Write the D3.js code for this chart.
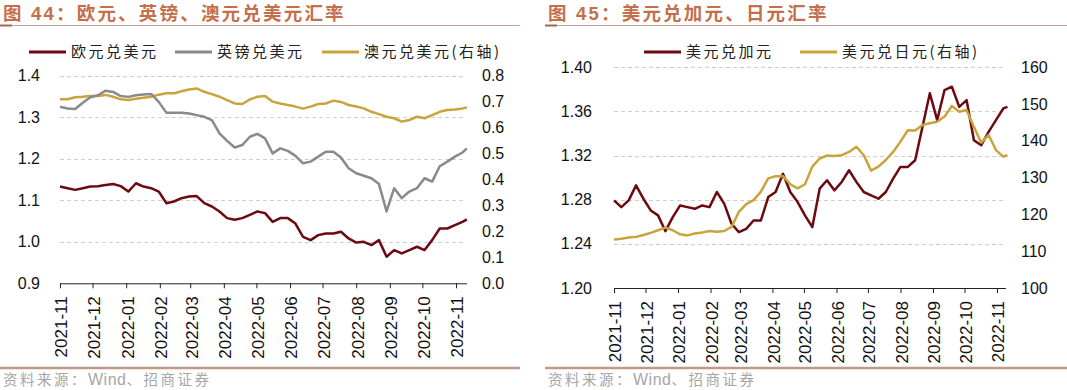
<!DOCTYPE html>
<html><head><meta charset="utf-8">
<script src="https://cdn.jsdelivr.net/npm/d3@7"></script>
<style>
html,body{margin:0;padding:0;background:#fff;}
svg{display:block;}
</style></head>
<body>
<svg id="c" width="1067" height="390"></svg>
<script>
// ---- data ----
const dates = ["2021-11-01","2021-11-08","2021-11-15","2021-11-22","2021-11-29","2021-12-06","2021-12-13","2021-12-20","2021-12-27",
"2022-01-03","2022-01-10","2022-01-17","2022-01-24","2022-01-31","2022-02-07","2022-02-14","2022-02-21","2022-02-28",
"2022-03-07","2022-03-14","2022-03-21","2022-03-28","2022-04-04","2022-04-11","2022-04-18","2022-04-25","2022-05-02",
"2022-05-09","2022-05-16","2022-05-23","2022-05-30","2022-06-06","2022-06-13","2022-06-20","2022-06-27","2022-07-04",
"2022-07-11","2022-07-18","2022-07-25","2022-08-01","2022-08-08","2022-08-15","2022-08-22","2022-08-29","2022-09-05",
"2022-09-12","2022-09-19","2022-09-26","2022-10-03","2022-10-10","2022-10-17","2022-10-24","2022-10-31","2022-11-07","2022-11-11"];

const eurusd = [1.133,1.129,1.125,1.129,1.133,1.134,1.137,1.139,1.134,1.121,1.141,1.133,1.129,1.121,1.093,1.097,1.105,1.109,
1.110,1.093,1.085,1.073,1.057,1.053,1.057,1.065,1.073,1.069,1.048,1.057,1.057,1.044,1.012,1.004,1.016,1.020,1.020,1.024,
1.008,0.998,1.000,0.992,1.004,0.964,0.980,0.972,0.980,0.988,0.980,1.004,1.032,1.032,1.040,1.048,1.054];

const gbpusd = [1.325,1.321,1.320,1.335,1.348,1.353,1.364,1.361,1.351,1.349,1.353,1.355,1.356,1.337,1.311,1.311,1.311,1.309,
1.305,1.301,1.293,1.261,1.243,1.227,1.233,1.253,1.260,1.249,1.213,1.225,1.219,1.207,1.189,1.193,1.205,1.217,1.217,1.203,
1.177,1.165,1.159,1.153,1.139,1.073,1.129,1.105,1.121,1.129,1.153,1.145,1.182,1.193,1.205,1.215,1.225];

const audusd = [0.709,0.709,0.717,0.719,0.722,0.722,0.726,0.719,0.709,0.706,0.711,0.715,0.719,0.727,0.732,0.732,0.740,0.747,
0.751,0.738,0.729,0.719,0.706,0.693,0.691,0.709,0.719,0.722,0.700,0.693,0.687,0.681,0.673,0.681,0.691,0.693,0.704,0.699,
0.687,0.681,0.674,0.661,0.652,0.642,0.636,0.623,0.629,0.642,0.636,0.648,0.661,0.668,0.670,0.674,0.678];

const usdcad = [1.2794,1.2733,1.2794,1.2930,1.2809,1.2703,1.2658,1.2515,1.2642,1.2748,1.2733,1.2718,1.2748,1.2733,1.2870,
1.2764,1.2582,1.2506,1.2536,1.2612,1.2612,1.2824,1.2870,1.3036,1.2870,1.2779,1.2658,1.2552,1.2900,1.2976,1.2885,1.2961,
1.3067,1.2961,1.2870,1.2839,1.2809,1.2870,1.2991,1.3097,1.3097,1.3158,1.3461,1.3764,1.3521,1.3794,1.3824,1.3642,1.3703,
1.3339,1.3294,1.3415,1.3521,1.3627,1.3642];

const usdjpy = [113.2,113.4,113.7,113.9,114.4,115.0,115.7,116.4,115.7,114.6,114.3,114.8,115.1,115.5,115.3,115.5,116.6,120.7,
122.8,123.9,126.2,129.8,130.4,130.4,128.2,127.1,128.2,133.0,135.2,136.0,135.9,136.1,137.0,138.4,136.1,131.9,133.0,134.8,
137.0,139.8,142.9,142.8,144.3,144.8,145.2,146.6,149.5,147.9,148.4,143.8,139.5,141.6,137.5,135.7,136.1];

const monthTicks = ["2021-11","2021-12","2022-01","2022-02","2022-03","2022-04","2022-05","2022-06","2022-07","2022-08","2022-09","2022-10","2022-11"];
const leftTicksA = [0.9,1.0,1.1,1.2,1.3,1.4];
const rightTicksA = [0.0,0.1,0.2,0.3,0.4,0.5,0.6,0.7,0.8];
const leftTicksB = [1.20,1.24,1.28,1.32,1.36,1.40];
const rightTicksB = [100,110,120,130,140,150,160];

const titleA = "图 44：欧元、英镑、澳元兑美元汇率";
const titleB = "图 45：美元兑加元、日元汇率";
const sourceParts = ["资料来源：", "Wind", "、招商证券"];

// ---- styles ----
const C_RED = "#6b0a10", C_GREY = "#8a8a8a", C_GOLD = "#c9a43c";
const parse = d3.timeParse("%Y-%m-%d");
const pm = d3.timeParse("%Y-%m");
const D = dates.map(parse);
const svg = d3.select("#c");
const numFont = "'Liberation Sans', Arial, sans-serif";
const cjkFont = "'Noto Sans CJK SC', sans-serif";

function panel(o) {
  const g = svg.append("g");
  // title
  g.append("text").attr("x", o.x0 + 3).attr("y", 20)
    .attr("font-family", "'Liberation Sans','Noto Sans CJK SC',sans-serif").attr("font-weight", "bold")
    .attr("font-size", 18.5).attr("letter-spacing", 2.2).attr("fill", "#c46f4c").text(o.title);
  g.append("line").attr("x1", o.x0).attr("x2", o.x1).attr("y1", 25.5).attr("y2", 25.5)
    .attr("stroke", "#c2a292").attr("stroke-width", 1);
  g.append("line").attr("x1", o.x0).attr("x2", o.x0 + 12).attr("y1", 25.5).attr("y2", 25.5)
    .attr("stroke", "#9c6a54").attr("stroke-width", 2);
  // source
  g.append("line").attr("x1", o.x0).attr("x2", o.x1).attr("y1", 368).attr("y2", 368)
    .attr("stroke", "#c09a86").attr("stroke-width", 2.5);
  const st = g.append("text").attr("x", o.x0 + 3).attr("y", 385).attr("font-family", cjkFont)
    .attr("font-size", 14.5).attr("fill", "#a6a6a6");
  sourceParts.forEach((p, i) => {
    st.append("tspan").attr("letter-spacing", i === 1 ? 0.5 : 2.5)
      .attr("font-family", i === 1 ? numFont : cjkFont).attr("font-size", i === 1 ? 16 : 14.5).text(p);
  });

  const x = d3.scaleTime().domain([pm("2021-11"), pm("2022-11")]).range([o.px0, o.px1]);
  const yL = d3.scaleLinear().domain(o.domL).range([o.yb, o.yt]);
  const yR = d3.scaleLinear().domain(o.domR).range([o.yb, o.yt]);

  // grid
  g.append("g").selectAll("line").data(o.ticksL.slice(1)).join("line")
    .attr("x1", o.px0).attr("x2", o.gx1)
    .attr("y1", d => Math.round(yL(d)) + 0.5).attr("y2", d => Math.round(yL(d)) + 0.5)
    .attr("stroke", "#cfcfcf").attr("stroke-dasharray", "4,3");

  // x axis
  const xa = g.append("g").attr("transform", `translate(0,${o.yb})`)
    .call(d3.axisBottom(x).tickValues(monthTicks.map(pm)).tickFormat(d3.timeFormat("%Y-%m")).tickSize(5).tickSizeOuter(0));
  xa.select(".domain").attr("d", `M${o.px0},0.5H${o.ax1}`).attr("stroke", "#222");
  xa.selectAll(".tick line").attr("stroke", "#222");
  xa.selectAll(".tick text").attr("font-family", numFont).attr("font-size", 17).attr("fill", "#111")
    .attr("transform", "rotate(-90)").attr("text-anchor", "end").attr("x", -13).attr("y", 1).attr("dy", "0.35em");

  // y labels
  g.append("g").selectAll("text").data(o.ticksL).join("text")
    .attr("x", o.lx).attr("y", d => yL(d)).attr("dy", "0.35em").attr("text-anchor", "end")
    .attr("font-family", numFont).attr("font-size", 16).attr("fill", "#111").text(o.fmtL);
  g.append("g").selectAll("text").data(o.ticksR).join("text")
    .attr("x", o.rx).attr("y", d => yR(d)).attr("dy", "0.35em").attr("text-anchor", "start")
    .attr("font-family", numFont).attr("font-size", 16).attr("fill", "#111").text(o.fmtR);

  // series
  o.series.forEach(s => {
    const sc = s.right ? yR : yL;
    const line = d3.line().x((d, i) => x(D[i])).y(d => sc(d));
    g.append("path").datum(s.values).attr("d", line).attr("fill", "none")
      .attr("stroke", s.color).attr("stroke-width", 2.5).attr("stroke-linejoin", "round");
  });

  // legend
  o.series.forEach(s => {
    g.append("line").attr("x1", s.lx).attr("x2", s.lx + 37).attr("y1", 52).attr("y2", 52)
      .attr("stroke", s.color).attr("stroke-width", 3);
    g.append("text").attr("x", s.lx + 42).attr("y", 52).attr("dy", "0.35em")
      .attr("font-family", cjkFont).attr("font-size", 15).attr("letter-spacing", 2.5)
      .attr("fill", "#222").text(s.name);
  });
}

panel({
  x0: 0, x1: 520, title: titleA,
  px0: 60, px1: 456, ax1: 467, gx1: 466, yb: 283.3, yt: 75.7,
  domL: [0.9, 1.4], domR: [0, 0.8], ticksL: leftTicksA, ticksR: rightTicksA,
  fmtL: d3.format(".1f"), fmtR: d3.format(".1f"), lx: 40, rx: 482,
  series: [
    {name: "澳元兑美元(右轴)", values: audusd, color: C_GOLD, right: true, lx: 322},
    {name: "英镑兑美元", values: gbpusd, color: C_GREY, right: false, lx: 175},
    {name: "欧元兑美元", values: eurusd, color: C_RED, right: false, lx: 29}
  ]
});

panel({
  x0: 545, x1: 1067, title: titleB,
  px0: 614, px1: 997, ax1: 1006, gx1: 1004, yb: 288, yt: 67.3,
  domL: [1.20, 1.40], domR: [100, 160], ticksL: leftTicksB, ticksR: rightTicksB,
  fmtL: d3.format(".2f"), fmtR: d3.format("d"), lx: 592, rx: 1021,
  series: [
    {name: "美元兑加元", values: usdcad, color: C_RED, right: false, lx: 644},
    {name: "美元兑日元(右轴)", values: usdjpy, color: C_GOLD, right: true, lx: 800}
  ]
});
</script>
</body></html>
